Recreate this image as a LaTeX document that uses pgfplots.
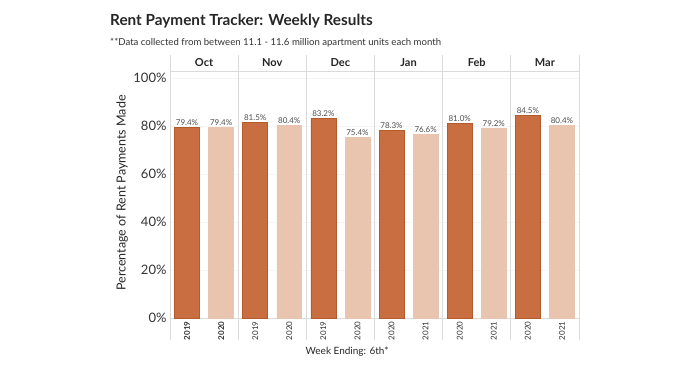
\documentclass[border=0pt]{standalone}
\usepackage{pgfplots}
\pgfplotsset{compat=1.18}
\usepackage{pgfplotstable}
\usepackage{fontspec}
\setmainfont{Lato}
\definecolor{darkbar}{HTML}{C86E41}
\definecolor{darkedge}{HTML}{B45A2D}
\definecolor{lightbar}{HTML}{E9C5B0}
\definecolor{txt}{HTML}{333333}
\definecolor{gridc}{HTML}{DADADA}
\pgfplotstableread{
x y
0.5 79.4
2.5 81.5
4.5 83.2
6.5 78.3
8.5 81.0
10.5 84.5
}\darkdata
\pgfplotstableread{
x y
1.5 79.4
3.5 80.4
5.5 75.4
7.5 76.6
9.5 79.2
11.5 80.4
}\lightdata
\begin{document}
\begin{tikzpicture}
\useasboundingbox (0,0) rectangle (696pt,365pt);
\node[anchor=base west, inner sep=0, font=\fontsize{15.3}{18}\selectfont\bfseries, text=black!85] at (110pt,339pt) {Rent Payment Tracker: Weekly Results};
\node[anchor=base west, inner sep=0, font=\fontsize{9.6}{11}\selectfont, text=txt] at (110pt,319pt) {**Data collected from between 11.1 - 11.6 million apartment units each month};
\begin{axis}[
  scale only axis, width=409pt, height=263pt,
  at={(170pt,47pt)}, anchor=south west,
  xmin=0, xmax=12, ymin=0, ymax=109.58,
  axis line style={draw=none},
  xtick pos=lower, ytick pos=left,
  xtick={0.5,1.5,...,11.5},
  xticklabels={\textbf{2019},\textbf{2020},2019,2020,2019,2020,2020,2021,2020,2021,2020,2021},
  x tick label style={rotate=90, anchor=east, font=\fontsize{8}{9}\selectfont, text=txt},
  xlabel={Week Ending: 6th*},
  xlabel style={font=\fontsize{10}{12}\selectfont, text=black!85, at={(axis description cs:0.433,0)}, anchor=center, yshift=-34pt},
  ytick={0,20,...,100},
  yticklabel={\pgfmathprintnumber{\tick}\%},
  y tick label style={font=\fontsize{13}{15}\selectfont, text=txt},
  /pgf/number format/assume math mode=true,
  ylabel={Percentage of Rent Payments Made},
  ylabel style={font=\fontsize{12.5}{14}\selectfont, text=black!85, at={(axis description cs:-0.117,0.475)}, anchor=center},
  major tick length=0pt,
  ymajorgrids, major grid style={gray!8},
  extra x ticks={0,2,...,12},
  extra x tick labels={},
  extra x tick style={grid=major, major grid style={gridc, line width=0.8pt}, tick align=outside, major tick length=22pt, tick style={gridc, line width=0.8pt}},
  extra y ticks={0,102.9},
  extra y tick labels={},
  extra y tick style={grid=major, major grid style={gridc, line width=0.8pt}},
  clip=false,
]
\addplot[ybar, bar shift=0pt, bar width=0.73, fill=darkbar, draw=darkedge, line width=0.6pt,
  nodes near coords={\pgfmathprintnumber[fixed,fixed zerofill,precision=1]{\pgfplotspointmeta}\%},
  nodes near coords style={font=\fontsize{8}{9}\selectfont, text=black!70, inner sep=1.5pt},
  point meta=y] table[x=x,y=y]{\darkdata};
\addplot[ybar, bar shift=0pt, bar width=0.73, fill=lightbar, draw=lightbar, line width=0.6pt,
  nodes near coords={\pgfmathprintnumber[fixed,fixed zerofill,precision=1]{\pgfplotspointmeta}\%},
  nodes near coords style={font=\fontsize{8}{9}\selectfont, text=black!70, inner sep=1.5pt},
  point meta=y] table[x=x,y=y]{\lightdata};
\node[font=\fontsize{11}{13}\selectfont\bfseries, text=black!85] at (axis cs:1,106.5) {Oct};
\node[font=\fontsize{11}{13}\selectfont\bfseries, text=black!85] at (axis cs:3,106.5) {Nov};
\node[font=\fontsize{11}{13}\selectfont\bfseries, text=black!85] at (axis cs:5,106.5) {Dec};
\node[font=\fontsize{11}{13}\selectfont\bfseries, text=black!85] at (axis cs:7,106.5) {Jan};
\node[font=\fontsize{11}{13}\selectfont\bfseries, text=black!85] at (axis cs:9,106.5) {Feb};
\node[font=\fontsize{11}{13}\selectfont\bfseries, text=black!85] at (axis cs:11,106.5) {Mar};
\end{axis}
\end{tikzpicture}
\end{document}
